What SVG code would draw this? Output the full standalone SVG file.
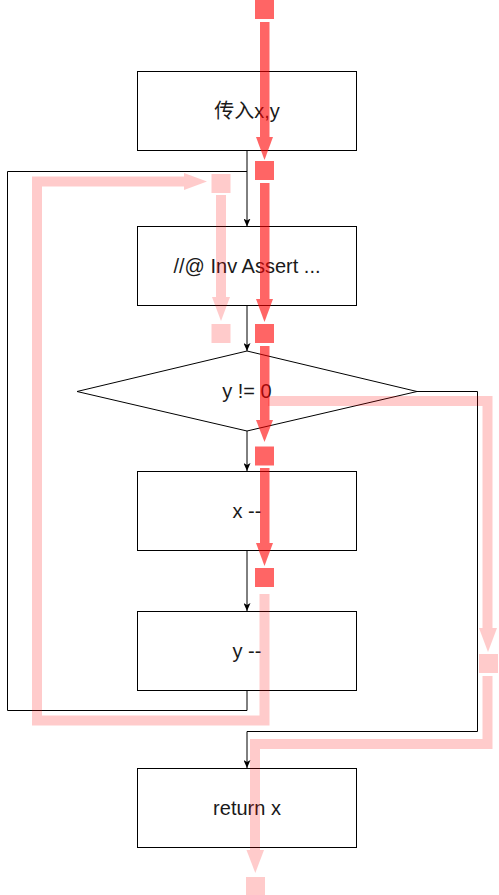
<svg xmlns="http://www.w3.org/2000/svg" width="499" height="895" viewBox="0 0 499 895">
<defs>
<style>
.box{fill:#fff;stroke:#000;stroke-width:1}
.lbl{font-family:"Liberation Sans","Noto Sans CJK SC",Arial,sans-serif;font-size:20px;fill:#1a1a1a;text-anchor:middle}
.con{fill:none;stroke:#000;stroke-width:1}
.hl{fill:#ff0000}
.hls{fill:none;stroke:#ff0000;stroke-width:10;stroke-linejoin:miter;stroke-linecap:butt}
</style>
<marker id="arr" viewBox="0 0 8 7" refX="8" refY="3.5" markerWidth="8" markerHeight="7" markerUnits="userSpaceOnUse" orient="auto">
<path d="M0,0 L8,3.5 L0,7 L2,3.5 z" fill="#000"/>
</marker>
</defs>
<rect width="499" height="895" fill="#fff"/>

<g id="connectors">
<path class="con" d="M247,150.5 V226.5" marker-end="url(#arr)"/>
<path class="con" d="M247,690.5 V710.5 H7.5 V171.5 H247"/>
<path class="con" d="M247,305.5 V351" marker-end="url(#arr)"/>
<path class="con" d="M247,431 V471" marker-end="url(#arr)"/>
<path class="con" d="M247,550.5 V611" marker-end="url(#arr)"/>
<path class="con" d="M417,391.5 H477.5 V731.5 H247 V768" marker-end="url(#arr)"/>
</g>

<g id="n1"><rect class="box" x="137.5" y="71.5" width="219" height="79"/><text class="lbl" x="247" y="118">传入x,y</text></g>
<g id="n2"><rect class="box" x="137.5" y="226.5" width="219" height="79"/><text class="lbl" x="247" y="273">//@ Inv Assert ...</text></g>
<g id="n3"><polygon class="box" points="247,351 417,391.5 247,431 77,391.5"/><text class="lbl" x="247" y="398">y != 0</text></g>
<g id="n4"><rect class="box" x="137.5" y="471.5" width="219" height="79"/><text class="lbl" x="247" y="518">x --</text></g>
<g id="n5"><rect class="box" x="137.5" y="611.5" width="219" height="79"/><text class="lbl" x="247" y="658">y --</text></g>
<g id="n6"><rect class="box" x="137.5" y="768.5" width="219" height="79"/><text class="lbl" x="247" y="815">return x</text></g>

<g id="path-light" opacity="0.2">
<polyline class="hls" points="264.5,594 264.5,720.5 37,720.5 37,181.5 186,181.5"/>
<polygon class="hl" points="184,173 184,190 207,181.5"/>
<rect class="hl" x="211.5" y="174" width="19" height="19"/>
<polyline class="hls" points="221,195 221,299"/>
<polygon class="hl" points="212,297 230,297 221,321"/>
<rect class="hl" x="211.5" y="324" width="19" height="19"/>
<polyline class="hls" points="268,401 487.5,401 487.5,630"/>
<polygon class="hl" points="479,628 497,628 488,652"/>
<rect class="hl" x="479" y="654" width="19" height="19"/>
<polyline class="hls" points="487.5,676 487.5,744 255,744 255,852"/>
<polygon class="hl" points="246.5,850 264,850 255.3,873"/>
<rect class="hl" x="246" y="877" width="19" height="18"/>
</g>

<g id="path-dark" opacity="0.6">
<rect class="hl" x="255" y="0" width="19" height="19"/>
<rect class="hl" x="260" y="22" width="9.5" height="117"/>
<polygon class="hl" points="256,137 273,137 264.5,160"/>
<rect class="hl" x="255" y="161" width="19" height="19"/>
<rect class="hl" x="260" y="183" width="9.5" height="118"/>
<polygon class="hl" points="256,299 273,299 264.5,322"/>
<rect class="hl" x="255" y="324" width="19" height="19"/>
<rect class="hl" x="260" y="346" width="9.5" height="76"/>
<polygon class="hl" points="256,420 273,420 264.5,442"/>
<rect class="hl" x="255" y="446.5" width="19" height="19"/>
<rect class="hl" x="260" y="468" width="9.5" height="77"/>
<polygon class="hl" points="256,543 273,543 264.5,566"/>
<rect class="hl" x="255" y="568" width="19" height="19"/>
</g>
</svg>
